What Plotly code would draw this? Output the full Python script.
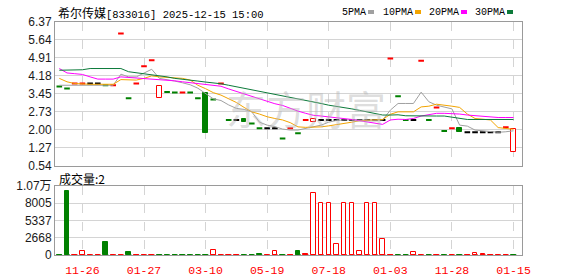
import plotly.graph_objects as go

# ---------------- data ----------------
opens = [3.75, 3.67, 3.87, 3.87, 3.87, 3.87, 3.80, 3.80, 5.90, 3.27,
         3.87, 4.57, 4.82, 3.27, 3.53, 3.51, 3.51, 3.51, 3.27, 3.47,
         3.22, 3.87, 2.39, 2.39, 2.41, 2.25, 2.05, 2.05, 2.05, 1.64,
         2.05, 1.85, 2.39, 2.30, 2.39, 2.39, 2.39, 2.39, 2.39, 2.39,
         2.39, 2.39, 2.39, 4.89, 3.35, 2.39, 2.39, 4.80, 2.39, 2.90,
         1.94, 2.05, 2.05, 1.89, 1.89, 1.89, 1.89, 1.89, 2.09, 1.08]
closes = [3.75, 3.67, 3.87, 3.87, 3.87, 3.87, 3.80, 3.80, 5.90, 3.27,
          3.87, 4.57, 4.82, 3.76, 3.53, 3.51, 3.51, 3.51, 3.27, 1.87,
          3.22, 3.87, 2.39, 2.39, 2.32, 2.25, 2.05, 2.05, 2.05, 1.64,
          2.05, 1.85, 2.39, 2.41, 2.39, 2.39, 2.39, 2.39, 2.39, 2.39,
          2.39, 2.39, 2.39, 4.89, 3.35, 2.39, 2.39, 4.80, 2.39, 2.90,
          1.94, 2.05, 1.91, 1.89, 1.89, 1.89, 1.89, 1.89, 2.09, 2.01]
# r = up (red), g = down (green), k = flat (black)
tones = ["g", "g", "r", "r", "k", "k", "g", "r", "r", "g",
         "r", "r", "r", "r", "g", "g", "r", "g", "g", "g",
         "g", "r", "g", "k", "g", "g", "g", "k", "k", "g",
         "r", "g", "r", "r", "k", "k", "k", "k", "k", "k",
         "k", "k", "k", "r", "g", "g", "k", "r", "g", "r",
         "g", "r", "g", "k", "k", "k", "k", "k", "r", "r"]

volumes = [60, 9900, 40, 550, 40, 40, 2000, 40, 40, 440,
           40, 40, 40, 40, 40, 40, 40, 40, 40, 40,
           800, 40, 40, 40, 40, 40, 230, 40, 650, 40,
           40, 550, 230, 9550, 8000, 8000, 1750, 8000, 8000, 650,
           8000, 8000, 2500, 40, 40, 40, 500, 40, 40, 40,
           40, 40, 40, 40, 340, 230, 40, 40, 40, 2]
# R = red hollow, r = red filled, g = green filled
vol_styles = ["g", "g", "r", "R", "r", "r", "g", "r", "r", "g",
              "r", "r", "r", "g", "g", "g", "g", "g", "g", "g",
              "R", "r", "r", "r", "g", "g", "g", "r", "R", "g",
              "r", "g", "r", "R", "R", "R", "R", "R", "R", "R",
              "R", "R", "R", "r", "g", "g", "R", "r", "g", "r",
              "g", "r", "g", "r", "R", "r", "r", "r", "r", "g"]

ma5 = [3.80, 3.80, 3.80, 3.80, 3.80, 3.80, 3.80, 3.80, 4.25, 4.14,
       4.14, 4.28, 4.45, 4.08, 4.04, 3.97, 3.90, 3.82, 3.68, 3.45,
       3.25, 3.18, 3.00, 2.86, 2.82, 2.72, 2.30, 2.18, 2.12, 2.02,
       1.98, 1.98, 2.05, 2.11, 2.18, 2.30, 2.37, 2.39, 2.39, 2.39,
       2.39, 2.39, 2.39, 2.79, 3.06, 3.06, 3.06, 3.52, 3.13, 2.99,
       2.92, 2.84, 2.18, 2.14, 1.98, 1.95, 1.91, 1.89, 1.91, 1.95]
ma10 = [4.08, 3.94, 3.87, 3.84, 3.84, 3.84, 3.84, 3.84, 4.03, 4.01,
        4.01, 4.08, 4.18, 4.14, 4.12, 4.10, 4.08, 4.01, 3.80, 3.66,
        3.50, 3.40, 3.25, 3.10, 2.90, 2.72, 2.63, 2.52, 2.45, 2.39,
        2.28, 2.11, 2.09, 2.09, 2.11, 2.15, 2.19, 2.25, 2.30, 2.36,
        2.39, 2.39, 2.41, 2.62, 2.72, 2.72, 2.72, 2.92, 2.95, 3.03,
        3.00, 2.95, 2.90, 2.63, 2.45, 2.41, 2.39, 2.08, 2.05, 2.01]
ma20 = [4.48, 4.30, 4.27, 4.24, 4.14, 4.05, 4.05, 4.05, 4.14, 4.12,
        4.08, 4.05, 4.05, 4.03, 4.01, 3.98, 3.94, 3.90, 3.87, 3.85,
        3.80, 3.76, 3.65, 3.55, 3.45, 3.36, 3.24, 3.14, 3.05, 2.98,
        2.86, 2.75, 2.66, 2.58, 2.55, 2.52, 2.49, 2.45, 2.41, 2.36,
        2.30, 2.25, 2.21, 2.39, 2.42, 2.41, 2.45, 2.55, 2.59, 2.66,
        2.66, 2.66, 2.63, 2.59, 2.56, 2.55, 2.52, 2.49, 2.49, 2.49]
ma30 = [4.41, 4.41, 4.41, 4.43, 4.48, 4.48, 4.48, 4.48, 4.48, 4.35,
        4.31, 4.28, 4.24, 4.18, 4.14, 4.08, 4.05, 4.01, 3.97, 3.93,
        3.90, 3.86, 3.80, 3.74, 3.67, 3.60, 3.55, 3.49, 3.44, 3.38,
        3.33, 3.27, 3.20, 3.15, 3.06, 2.99, 2.95, 2.90, 2.84, 2.78,
        2.72, 2.66, 2.59, 2.59, 2.60, 2.56, 2.55, 2.55, 2.55, 2.55,
        2.55, 2.50, 2.45, 2.41, 2.41, 2.41, 2.41, 2.41, 2.41, 2.41]

price_ticks = [0.54, 1.27, 2.00, 2.73, 3.45, 4.18, 4.91, 5.64, 6.37]
vol_ticks = [0, 2668, 5337, 8005, 10673]
vol_tick_text = ["0", "2668", "5337", "8005", "1.07万"]
date_ticks = [3, 11, 19, 27, 35, 43, 51, 59]
date_labels = ["11-26", "01-27", "03-10", "05-19", "07-18", "01-03", "11-28", "01-15"]

title_name = "希尔传媒"
title_rest = "[833016] 2025-12-15 15:00"
vol_title = "成交量:2"
ma_names = ["5PMA", "10PMA", "20PMA", "30PMA"]
watermark = "东方财富"

# ---------------- styles ----------------
RED = "#ff0000"
GREEN = "#008000"
BLACK = "#000000"
MA_COLORS = ["#a0a0a0", "#f2a400", "#ff00ff", "#0c7a3a"]
GRID = "#d4d4d4"
FRAME = "#9a9a9a"
tone_color = {"r": RED, "g": GREEN, "k": BLACK}

W, H = 578, 276
L, R, T, B = 55, 522, 22, 255


def px(xp):
    return (xp - L) / (R - L)


def py(yp):
    return (B - yp) / (B - T)


n = len(opens)
idx = list(range(n))

fig = go.Figure()

# candle bodies (non-doji)
bx, bbase, bh, bfill, bline = [], [], [], [], []
for i in idx:
    o, c = opens[i], closes[i]
    if o != c:
        bx.append(i)
        bbase.append(min(o, c))
        bh.append(abs(c - o))
        if c > o:
            bfill.append("#ffffff")
            bline.append(RED)
        else:
            bfill.append(GREEN)
            bline.append(GREEN)
fig.add_trace(go.Bar(x=bx, y=bh, base=bbase, width=0.58,
                     marker=dict(color=bfill, line=dict(color=bline, width=1)),
                     showlegend=False, hoverinfo="skip", xaxis="x", yaxis="y"))

# doji dashes
dx = [i for i in idx if opens[i] == closes[i]]
fig.add_trace(go.Scatter(x=dx, y=[closes[i] for i in dx], mode="markers",
                         marker=dict(symbol="line-ew", size=4,
                                     line=dict(width=2, color=[tone_color[tones[i]] for i in dx])),
                         showlegend=False, hoverinfo="skip", xaxis="x", yaxis="y"))

# moving averages
for vals, col in zip([ma5, ma10, ma20, ma30], MA_COLORS):
    fig.add_trace(go.Scatter(x=idx, y=vals, mode="lines", line=dict(color=col, width=1),
                             showlegend=False, hoverinfo="skip", xaxis="x", yaxis="y"))

# volume bars
vfill = []
vline = []
for s in vol_styles:
    if s == "R":
        vfill.append("#ffffff"); vline.append(RED)
    elif s == "r":
        vfill.append(RED); vline.append(RED)
    else:
        vfill.append(GREEN); vline.append(GREEN)
fig.add_trace(go.Bar(x=idx, y=volumes, width=0.58,
                     marker=dict(color=vfill, line=dict(color=vline, width=1)),
                     showlegend=False, hoverinfo="skip", xaxis="x2", yaxis="y2"))
fig.add_trace(go.Scatter(x=idx, y=[0] * n, mode="markers", cliponaxis=False,
                         marker=dict(symbol="line-ew", size=4, line=dict(width=1.5, color=vline)),
                         showlegend=False, hoverinfo="skip", xaxis="x2", yaxis="y2"))

tickfont = dict(family="Liberation Sans, Noto Sans CJK SC", size=12, color="#1a1a1a")

fig.update_layout(
    width=W, height=H,
    margin=dict(l=L, r=W - R, t=T, b=H - B, pad=0, autoexpand=False),
    paper_bgcolor="#ffffff", plot_bgcolor="#ffffff",
    bargap=0, showlegend=False,
    xaxis=dict(domain=[0, 1], range=[-0.56, 60.1], anchor="y", automargin=False,
               tickvals=date_ticks, showticklabels=False, ticks="",
               showgrid=True, gridcolor=GRID, griddash="dash", gridwidth=1,
               showline=True, mirror=True, linecolor=FRAME, linewidth=1, zeroline=False),
    yaxis=dict(domain=[py(165.5), 1], range=[0.54, 6.37], anchor="x", automargin=False,
               tickvals=price_ticks, ticktext=[f"{v:.2f}" for v in price_ticks],
               tickfont=tickfont, ticks="", showgrid=True, gridcolor=GRID, gridwidth=1,
               showline=True, mirror=True, linecolor=FRAME, linewidth=1, zeroline=False),
    xaxis2=dict(domain=[0, 1], range=[-0.56, 60.1], anchor="y2", matches="x", automargin=False,
                tickvals=date_ticks, ticktext=date_labels, ticks="", ticklabelstandoff=4,
                tickfont=dict(family="Liberation Mono", size=11.5, color=RED),
                showgrid=True, gridcolor=GRID, griddash="dash", gridwidth=1,
                showline=True, mirror=True, linecolor=FRAME, linewidth=1, zeroline=False),
    yaxis2=dict(domain=[0, py(186)], range=[0, 10673], anchor="x2", automargin=False,
                tickvals=vol_ticks, ticktext=vol_tick_text, tickfont=tickfont, ticks="",
                showgrid=True, gridcolor=GRID, gridwidth=1,
                showline=True, mirror=True, linecolor=FRAME, linewidth=1, zeroline=False),
)

ann = []
# faint watermark
ann.append(dict(xref="paper", yref="paper", x=px(306), y=py(108), xanchor="center", yanchor="middle",
                showarrow=False, text=watermark,
                font=dict(family="Noto Sans CJK SC", size=40, color="rgba(180,180,180,0.45)")))
ann.append(dict(xref="paper", yref="paper", x=px(56), y=py(12), xanchor="left", yanchor="middle",
                showarrow=False,
                text=(f'<span style="font-family:Noto Sans CJK SC;font-size:12px">{title_name}</span>'
                      f'<span style="font-family:Liberation Mono;font-size:10.5px">{title_rest}</span>'),
                font=dict(color="#000000", size=12)))
ann.append(dict(xref="paper", yref="paper", x=px(57), y=py(178), xanchor="left", yanchor="middle",
                showarrow=False, text=vol_title,
                font=dict(family="Noto Sans CJK SC", size=12, color="#000000")))
leg_x = [340, 381, 427, 473]
sq_x = [368, 415, 461, 507]
for name, lx, sx, col in zip(ma_names, leg_x, sq_x, MA_COLORS):
    ann.append(dict(xref="paper", yref="paper", x=px(lx), y=py(12), xanchor="left", yanchor="middle",
                    showarrow=False, text=name,
                    font=dict(family="Liberation Mono", size=10, color="#000000")))
    fig.add_shape(type="rect", xref="paper", yref="paper", x0=px(sx), x1=px(sx + 6),
                  y0=py(14), y1=py(10), fillcolor=col, line=dict(width=0))
fig.update_layout(annotations=ann)

fig.write_html("out.html")
